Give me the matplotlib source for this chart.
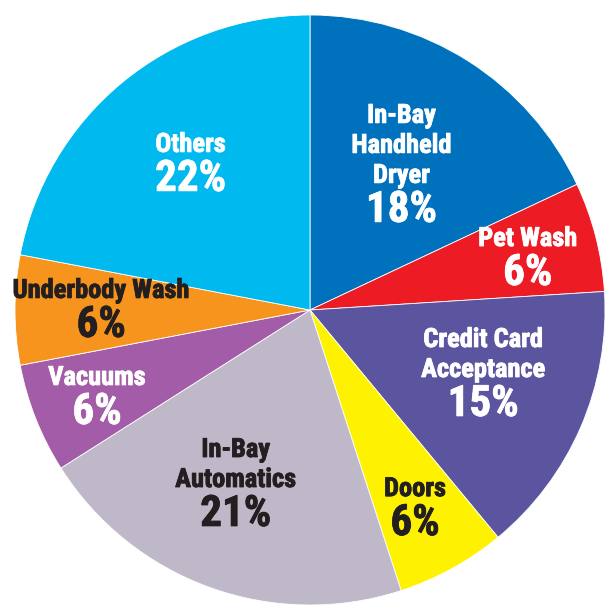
import matplotlib.pyplot as plt
import matplotlib.patheffects as pe

labels = ['In-Bay\nHandheld\nDryer', 'Pet Wash', 'Credit Card\nAcceptance', 'Doors',
          'In-Bay\nAutomatics', 'Vacuums', 'Underbody Wash', 'Others']
shares = [18, 6, 15, 6, 21, 6, 6, 22]
colors = ['#0071BC', '#ED1C24', '#5B55A0', '#FFF200',
          '#BEB8C8', '#A35DA8', '#F7941D', '#00B9EE']
text_colors = ['white', 'white', 'white', '#231F20',
               '#231F20', 'white', '#231F20', 'white']

# centre x and baseline of the last name line for each slice label
anchors = [(0.310, 0.431), (0.738, 0.217), (0.587, -0.227), (0.356, -0.631),
           (-0.252, -0.600), (-0.722, -0.254), (-0.708, 0.041), (-0.405, 0.536)]
line_step = 0.1017
pct_drop = 0.132

font = ['Roboto Condensed', 'DejaVu Sans']

fig = plt.figure(figsize=(6.12, 6.08), dpi=100)
ax = fig.add_axes([15 / 612, 3 / 608, 590 / 612, 590 / 608])
ax.pie(shares, colors=colors, startangle=90, counterclock=False, radius=1,
       wedgeprops=dict(linewidth=0.6, edgecolor='white'))
ax.set_xlim(-1, 1)
ax.set_ylim(-1, 1)
ax.set_aspect('equal')
ax.axis('off')

for lab, val, tc, (x, y) in zip(labels, shares, text_colors, anchors):
    heavy = [pe.withStroke(linewidth=0.6, foreground=tc)]
    lines = lab.split('\n')
    for i, line in enumerate(lines):
        yl = y + (len(lines) - 1 - i) * line_step
        ax.text(x, yl, line, ha='center', va='baseline', color=tc,
                family=font, fontweight='bold', fontsize=19, path_effects=heavy)
    ax.text(x, y - pct_drop, f'{val}%', ha='center', va='baseline', color=tc,
            family=font, fontweight='bold', fontsize=31, path_effects=heavy)

fig.savefig('out.png', dpi=100)
